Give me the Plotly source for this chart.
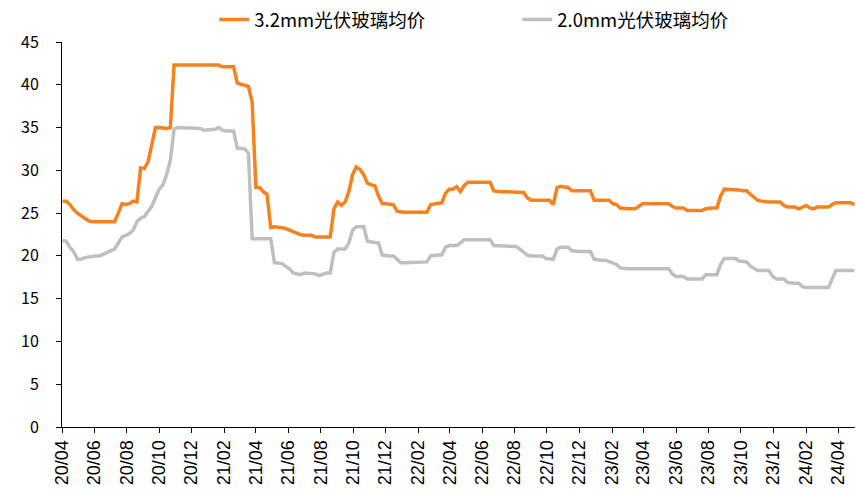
import pandas as pd
import plotly.graph_objects as go

start_date = "2020-04-02"
n_weeks = 214

price_32 = [
    26.4, 26.4, 26.0, 25.4, 25.0, 24.7, 24.4, 24.1, 24.0, 24.0,
    24.1, 24.0, 24.0, 24.0, 24.0, 25.0, 26.1, 26.0, 26.1, 26.4,
    26.3, 30.3, 30.2, 31.0, 33.0, 35.0, 35.0, 34.9, 34.9, 35.0,
    42.3, 42.3, 42.3, 42.3, 42.3, 42.3, 42.3, 42.3, 42.3, 42.3,
    42.3, 42.3, 42.3, 42.1, 42.1, 42.2, 42.1, 40.2, 40.1, 40.0,
    39.8, 38.0, 28.0, 28.0, 27.5, 27.2, 23.3, 23.4, 23.4, 23.3,
    23.2, 23.0, 22.9, 22.7, 22.5, 22.4, 22.4, 22.4, 22.2, 22.2,
    22.2, 22.3, 22.2, 25.5, 26.3, 25.9, 26.3, 27.5, 29.5, 30.4,
    30.1, 29.5, 28.5, 28.3, 28.2, 27.0, 26.1, 26.1, 26.1, 26.0,
    25.2, 25.1, 25.1, 25.1, 25.1, 25.1, 25.1, 25.1, 25.1, 26.0,
    26.1, 26.1, 26.2, 27.3, 27.8, 27.8, 28.1, 27.5, 28.2, 28.6,
    28.6, 28.6, 28.6, 28.6, 28.6, 28.6, 27.6, 27.5, 27.5, 27.5,
    27.5, 27.5, 27.4, 27.4, 27.4, 26.8, 26.5, 26.5, 26.5, 26.5,
    26.5, 26.5, 26.0, 28.0, 28.1, 28.1, 28.0, 27.6, 27.6, 27.6,
    27.6, 27.6, 27.6, 26.5, 26.5, 26.5, 26.5, 26.5, 26.1, 26.0,
    25.6, 25.5, 25.5, 25.5, 25.5, 25.8, 26.1, 26.1, 26.1, 26.1,
    26.1, 26.1, 26.1, 26.1, 25.8, 25.6, 25.6, 25.6, 25.3, 25.3,
    25.3, 25.3, 25.3, 25.5, 25.6, 25.6, 25.6, 27.0, 27.8, 27.8,
    27.8, 27.8, 27.7, 27.6, 27.6, 27.2, 26.8, 26.5, 26.4, 26.3,
    26.3, 26.3, 26.3, 26.3, 25.9, 25.7, 25.7, 25.7, 25.5, 25.7,
    25.9, 25.6, 25.5, 25.7, 25.7, 25.7, 25.7, 26.0, 26.2, 26.2,
    26.2, 26.2, 26.2, 26.0,
]

price_20 = [
    21.8, 21.7, 21.0, 20.5, 19.6, 19.6, 19.8, 19.9, 20.0, 20.0,
    20.0, 20.2, 20.4, 20.6, 20.8, 21.5, 22.2, 22.4, 22.6, 23.0,
    24.0, 24.4, 24.6, 25.2, 25.8, 26.8, 27.8, 28.3, 29.5, 31.2,
    34.8, 35.0, 35.0, 34.9, 35.0, 35.0, 34.9, 34.9, 34.7, 34.7,
    34.7, 34.8, 35.0, 34.7, 34.6, 34.6, 34.6, 32.6, 32.6, 32.5,
    32.0, 22.0, 22.0, 22.0, 22.0, 22.0, 22.0, 19.2, 19.1, 19.1,
    18.8, 18.5, 18.0, 17.9, 17.8, 18.0, 18.0, 18.0, 17.9, 17.7,
    17.9, 18.0, 18.0, 20.4, 20.8, 20.8, 20.8, 21.5, 23.0, 23.4,
    23.4, 23.4, 21.7, 21.6, 21.5, 21.5, 20.1, 20.0, 20.0, 20.0,
    19.6, 19.2, 19.2, 19.2, 19.2, 19.2, 19.2, 19.2, 19.3, 20.0,
    20.1, 20.1, 20.1, 21.0, 21.2, 21.2, 21.2, 21.5, 21.9, 21.9,
    21.9, 21.9, 21.9, 21.9, 21.9, 21.9, 21.2, 21.2, 21.2, 21.2,
    21.2, 21.2, 21.1, 20.8, 20.5, 20.1, 20.0, 20.0, 20.0, 20.0,
    19.7, 19.6, 19.6, 20.8, 21.0, 21.0, 21.0, 20.6, 20.5, 20.5,
    20.5, 20.5, 20.5, 19.6, 19.5, 19.5, 19.5, 19.3, 19.1, 19.0,
    18.6, 18.5, 18.5, 18.5, 18.5, 18.5, 18.5, 18.5, 18.5, 18.5,
    18.5, 18.5, 18.5, 18.5, 17.9, 17.6, 17.6, 17.6, 17.3, 17.3,
    17.3, 17.3, 17.3, 17.8, 17.8, 17.8, 17.8, 19.0, 19.7, 19.7,
    19.7, 19.7, 19.4, 19.3, 19.3, 18.8, 18.5, 18.3, 18.3, 18.3,
    18.3, 17.6, 17.3, 17.3, 17.3, 16.9, 16.8, 16.8, 16.8, 16.4,
    16.3, 16.3, 16.3, 16.3, 16.3, 16.3, 16.3, 17.3, 18.3, 18.3,
    18.3, 18.3, 18.3, 18.3,
]

series_names = ["3.2mm光伏玻璃均价", "2.0mm光伏玻璃均价"]
y_ticks = [0, 5, 10, 15, 20, 25, 30, 35, 40, 45]

dates = pd.date_range(start_date, periods=n_weeks, freq="7D")

fig = go.Figure()
fig.add_trace(go.Scatter(x=dates, y=price_32, mode="lines", name=series_names[0],
                         line=dict(color="#F5821F", width=3.5)))
fig.add_trace(go.Scatter(x=dates, y=price_20, mode="lines", name=series_names[1],
                         line=dict(color="#BFBFBF", width=3.5)))

fig.update_layout(
    width=856, height=491,
    margin=dict(l=62, r=1, t=42, b=64, autoexpand=False),
    plot_bgcolor="white", paper_bgcolor="white",
    font=dict(family="Noto Sans CJK SC", size=14, color="#000"),
    showlegend=True,
    legend=dict(orientation="h", x=0.192, xanchor="left",
                y=1 - 20 / 491, yanchor="middle", yref="container",
                font=dict(size=18.5, family="Noto Sans CJK SC", color="#000"),
                itemwidth=30, entrywidth=258),
    xaxis=dict(
        type="date",
        range=["2020-04-01", "2024-05-03"],
        tick0="2020-04-01", dtick="M2", tickformat="%y/%m",
        tickangle=-90, ticks="outside", ticklen=5, tickcolor="#000",
        showline=True, linecolor="#000", linewidth=1, showgrid=False, zeroline=False,
        tickfont=dict(family="Liberation Sans", size=18, color="#000"),
    ),
    yaxis=dict(
        range=[0, 45], tickvals=y_ticks,
        ticks="outside", ticklen=5, tickcolor="#000",
        showline=True, linecolor="#000", linewidth=1, showgrid=False, zeroline=False,
        tickfont=dict(family="Noto Sans CJK SC", size=16, color="#000"),
        ticklabelstandoff=14,
    ),
)

fig.write_html("out.html")
